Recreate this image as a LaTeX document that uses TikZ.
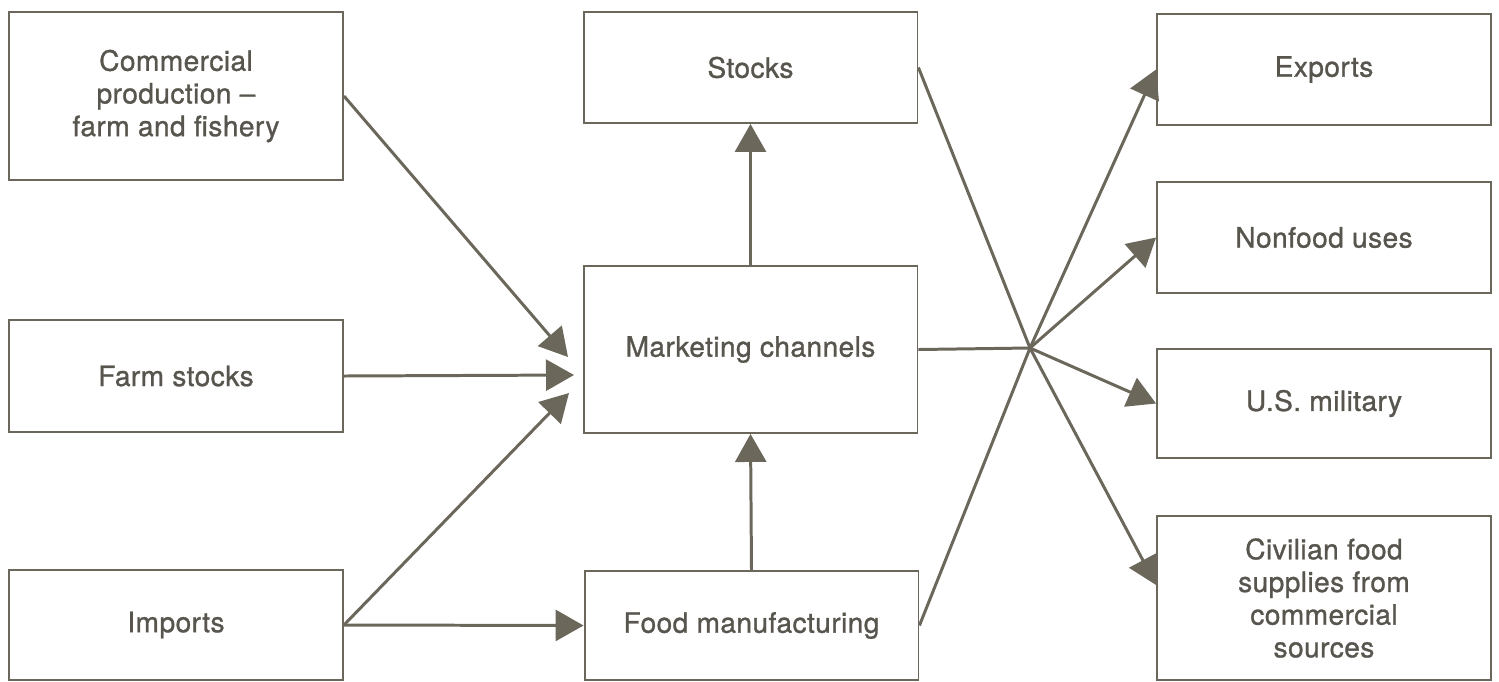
\documentclass[tikz,border=0pt]{standalone}
\usepackage{fontspec}
\setmainfont[FakeBold=1,LetterSpace=1.5]{TeX Gyre Heros}
\usetikzlibrary{arrows.meta}
\definecolor{ink}{HTML}{6B675B}
\definecolor{inktext}{HTML}{57554D}

\begin{document}
\begin{tikzpicture}[->,>={Triangle[length=0.56cm,width=0.62cm]},x=0.02cm,y=-0.02cm,
              line width=1.7pt,color=ink,
              main node/.style={rectangle,draw=ink,line width=1.1pt,inner sep=0pt,
                minimum width=6.68cm,align=center,text=inktext,
                font=\fontsize{16}{18.6}\selectfont}]
            \useasboundingbox (0,0) rectangle (1499,681);

            \node[main node,minimum height=3.36cm] (comm) at (176,96) {Commercial\\production --\\farm and fishery};
            \node[main node,minimum height=2.24cm] (farm) at (176,376) {Farm stocks};
            \node[main node,minimum height=2.2cm] (imp) at (176,625) {Imports};
            \node[main node,minimum height=2.22cm] (stk) at (750.5,67.5) {Stocks};
            \node[main node,minimum height=3.34cm] (mkt) at (750.5,349.5) {Marketing channels};
            \node[main node,minimum height=2.18cm] (fman) at (751.5,625.5) {Food manufacturing};
            \node[main node,minimum height=2.22cm] (exp) at (1324,69.5) {Exports};
            \node[main node,minimum height=2.22cm] (nonf) at (1324,237.5) {Nonfood uses};
            \node[main node,minimum height=2.18cm] (mil) at (1324,403.5) {U.S. military};
            \node[main node,minimum height=3.28cm] (civ) at (1324,598) {Civilian food\\supplies from\\commercial\\sources};

            \coordinate (m1) at (568,357);
            \coordinate (m2) at (574,375);
            \coordinate (m3) at (569,393);
            \coordinate (hub) at (1030,348);

            \path[every node/.style={}]
            (comm.east) edge (m1)
            (farm.east) edge (m2)
            (imp.east) edge (m3)
            (imp.east) edge (fman.west)
            (fman.north) edge (mkt.south)
            (mkt.north) edge (stk.south)
            (stk.east) edge[-] (hub)
            (mkt.east) edge[-] (hub)
            (fman.east) edge[-] (hub)
            (hub) edge (exp.west)
            (hub) edge (nonf.west)
            (hub) edge (mil.west)
            (hub) edge ([yshift=0.26cm]civ.west);
          \end{tikzpicture}
\end{document}
